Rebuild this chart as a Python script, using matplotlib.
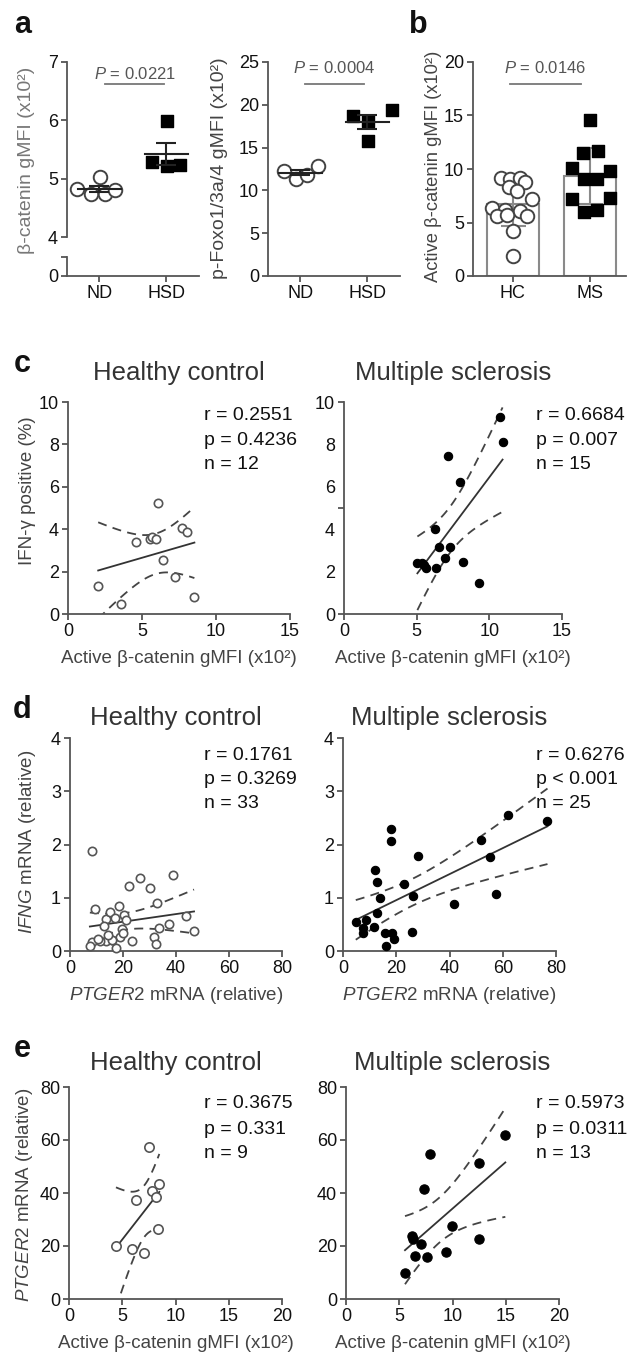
import numpy as np
import matplotlib
matplotlib.use("Agg")
import matplotlib.pyplot as plt

plt.rcParams['font.family'] = ['Liberation Sans', 'DejaVu Sans']
plt.rcParams['mathtext.fontset'] = 'custom'
plt.rcParams['mathtext.rm'] = 'Liberation Sans'
plt.rcParams['mathtext.it'] = 'Liberation Sans:italic'

# ---------------- data ----------------
# panel a (left): beta-catenin gMFI (x10^2), mouse ND vs HSD
groups_a = ['ND', 'HSD']
bcat_nd = [5.03, 4.83, 4.73, 4.73, 4.80]
bcat_nd_dx = [0.01, -0.33, -0.12, 0.09, 0.24]
bcat_hsd = [5.98, 5.29, 5.21, 5.23]
bcat_hsd_dx = [0.01, -0.21, 0.01, 0.21]
p_bcat = 'P = 0.0221'

# panel a (right): p-Foxo1/3a/4 gMFI (x10^2)
foxo_nd = [12.3, 11.33, 11.83, 12.85]
foxo_nd_dx = [-0.24, -0.06, 0.1, 0.27]
foxo_hsd = [18.7, 18.1, 15.8, 19.4]
foxo_hsd_dx = [-0.21, 0.01, 0.01, 0.37]
p_foxo = 'P = 0.0004'

# panel b: active beta-catenin gMFI (x10^2), HC vs MS
groups_b = ['HC', 'MS']
act_hc = [9.2, 9.1, 9.2, 8.8, 8.3, 7.9, 7.2, 6.4, 6.2, 6.1, 5.6, 5.7, 5.6, 4.2, 1.9]
act_hc_dx = [-0.15, -0.04, 0.09, 0.16, -0.05, 0.06, 0.25, -0.27, -0.1, 0.09,
             -0.2, -0.07, 0.19, 0.0, 0.0]
act_ms = [14.6, 11.45, 11.7, 10.07, 9.85, 9.07, 9.07, 7.17, 7.26, 6.0, 6.17]
act_ms_dx = [0.0, -0.1, 0.1, -0.24, 0.25, -0.08, 0.09, -0.24, 0.25, -0.08, 0.09]
p_act = 'P = 0.0146'

# panel c: IFN-g positive (%) vs active beta-catenin
c_hc_x = [2.04, 3.6, 4.57, 5.51, 5.69, 5.92, 6.07, 6.41, 7.2, 7.67, 8.05, 8.54]
c_hc_y = [1.33, 0.47, 3.41, 3.52, 3.65, 3.52, 5.22, 2.55, 1.73, 4.04, 3.88, 0.79]
c_ms_x = [10.73, 10.91, 7.14, 7.99, 6.28, 6.51, 7.31, 6.92, 8.22, 5.05, 5.39,
          5.62, 6.35, 9.27, 5.5]
c_ms_y = [9.31, 8.13, 7.45, 6.21, 4.0, 3.17, 3.15, 2.63, 2.47, 2.39, 2.39,
          2.16, 2.16, 1.48, 2.3]
c_stats = [['r = 0.2551', 'p = 0.4236', 'n = 12'],
           ['r = 0.6684', 'p = 0.007', 'n = 15']]

# panel d: IFNG mRNA vs PTGER2 mRNA
d_hc_x = [8.4, 9.4, 13.6, 15.1, 18.6, 20.4, 21.0, 22.4, 26.4, 30.2, 38.7, 32.7,
          43.7, 46.8, 37.5, 33.7, 31.7, 32.3, 23.3, 19.5, 18.9, 12.8, 15.7, 17.4,
          13.6, 11.3, 8.2, 7.5, 16.0, 17.0, 20.0, 10.5, 14.5]
d_hc_y = [1.87, 0.78, 0.60, 0.74, 0.85, 0.68, 0.58, 1.22, 1.38, 1.18, 1.43, 0.91,
          0.66, 0.38, 0.51, 0.44, 0.27, 0.13, 0.19, 0.41, 0.26, 0.47, 0.21, 0.05,
          0.18, 0.19, 0.16, 0.09, 0.20, 0.62, 0.33, 0.22, 0.30]
d_ms_x = [4.8, 8.5, 7.6, 7.6, 11.7, 11.9, 12.9, 13.8, 12.9, 15.7, 16.1, 18.5,
          19.2, 18.2, 18.2, 22.9, 26.4, 25.8, 28.2, 41.7, 52.0, 55.3, 57.4, 62.0, 76.8]
d_ms_y = [0.55, 0.58, 0.43, 0.33, 0.45, 1.52, 1.30, 0.99, 0.71, 0.33, 0.09, 0.33,
          0.23, 2.29, 2.07, 1.26, 1.03, 0.36, 1.79, 0.88, 2.08, 1.77, 1.07, 2.55, 2.45]
d_stats = [['r = 0.1761', 'p = 0.3269', 'n = 33'],
           ['r = 0.6276', 'p < 0.001', 'n = 25']]

# panel e: PTGER2 mRNA vs active beta-catenin
e_hc_x = [4.41, 5.89, 6.29, 7.51, 7.04, 7.76, 8.17, 8.48, 8.39]
e_hc_y = [20.1, 18.9, 37.4, 57.2, 17.2, 40.8, 38.4, 43.4, 26.4]
e_ms_x = [5.54, 6.23, 6.48, 7.0, 7.32, 7.89, 7.64, 9.4, 9.96, 12.5, 12.5, 14.96, 6.3]
e_ms_y = [9.7, 23.6, 16.1, 20.8, 41.5, 54.7, 15.7, 17.7, 27.7, 51.5, 22.6, 61.7, 22.8]
e_stats = [['r = 0.3675', 'p = 0.331', 'n = 9'],
           ['r = 0.5973', 'p = 0.0311', 'n = 13']]

# two-sided 95% t critical values by degrees of freedom
t95 = {7: 2.365, 10: 2.228, 11: 2.201, 13: 2.160, 23: 2.069, 31: 2.040}

# ---------------- style ----------------
W, H = 628, 1355
AX = '#555555'
LAB = '#444444'
TICK = 13
fig = plt.figure(figsize=(W / 100, H / 100), dpi=100)


def add_ax(l, t, r, b):
    return fig.add_axes([l / W, 1 - b / H, (r - l) / W, (b - t) / H])


def ftext(x, y, s, **kw):
    fig.text(x / W, 1 - y / H, s, **kw)


def style(ax):
    for s in ['top', 'right']:
        ax.spines[s].set_visible(False)
    for s in ['left', 'bottom']:
        ax.spines[s].set_color(AX)
        ax.spines[s].set_linewidth(1.3)
    ax.tick_params(direction='out', length=4.5, width=1.3, color=AX,
                   labelsize=TICK, labelcolor='#111111', pad=2)


def p_mark(ax, x0, x1, yline, ytext, label):
    ax.plot([x0, x1], [yline, yline], color='#777777', lw=1.3, clip_on=False)
    txt = r'$\it{P}$' + label[1:]
    ax.text((x0 + x1) / 2, ytext, txt, ha='center', va='baseline', fontsize=12,
            color='#555555')


def dot_group(ax, x, vals, dx, marker, filled, size):
    vals = np.array(vals)
    xs = x + np.array(dx)
    if filled:
        ax.scatter(xs, vals, s=size, marker=marker, facecolor='black',
                   edgecolor='black', lw=1, zorder=3, clip_on=False)
    else:
        ax.scatter(xs, vals, s=size, marker=marker, facecolor='white',
                   edgecolor='#444444', lw=1.4, zorder=3, clip_on=False)
    m = vals.mean()
    sem = vals.std(ddof=1) / np.sqrt(len(vals))
    ax.plot([x - 0.32, x + 0.32], [m, m], color='#222222', lw=1.5, zorder=4)
    ax.errorbar(x, m, yerr=sem, color='#222222', lw=1.5, capsize=7,
                capthick=1.5, zorder=4)


def reg_panel(ax, x, y, filled, size):
    x = np.array(x)
    y = np.array(y)
    n = len(x)
    if filled:
        ax.scatter(x, y, s=size, facecolor='black', edgecolor='black', lw=0.8,
                   zorder=3, clip_on=False)
    else:
        ax.scatter(x, y, s=size, facecolor='white', edgecolor='#555555', lw=1.2,
                   zorder=3, clip_on=False)
    b, a = np.polyfit(x, y, 1)
    xs = np.linspace(x.min(), x.max(), 120)
    yh = a + b * xs
    res = y - (a + b * x)
    s = np.sqrt((res ** 2).sum() / (n - 2))
    sxx = ((x - x.mean()) ** 2).sum()
    se = s * np.sqrt(1 / n + (xs - x.mean()) ** 2 / sxx)
    t = t95[n - 2]
    ax.plot(xs, yh, color='#333333', lw=1.3, zorder=2)
    for sign in (1, -1):
        ax.plot(xs, yh + sign * t * se, color='#444444', lw=1.3,
                ls=(0, (5, 3.5)), zorder=2)


# ---------------- panel a left (broken axis) ----------------
ax_up = add_ax(67, 62, 199, 237)
ax_lo = add_ax(67, 257, 199, 276)
for ax in (ax_up, ax_lo):
    style(ax)
    ax.set_xlim(-0.48, 1.49)
ax_up.spines['bottom'].set_visible(False)
ax_up.set_xticks([])
ax_up.set_ylim(4, 7)
ax_up.set_yticks([4, 5, 6, 7])
ax_lo.set_ylim(0, 0.33)
ax_lo.set_yticks([0, 0.33])
ax_lo.set_yticklabels(['0', ''])
ax_lo.set_xticks([0, 1])
ax_lo.set_xticklabels(groups_a)
dot_group(ax_up, 0, bcat_nd, bcat_nd_dx, 'o', False, 95)
dot_group(ax_up, 1, bcat_hsd, bcat_hsd_dx, 's', True, 85)
p_mark(ax_up, 0.09, 0.97, 6.62, 6.71, p_bcat)
ftext(27, 160, 'β-catenin gMFI (x10²)', rotation=90, ha='center', va='center',
      fontsize=14, color='#777777')

# ---------------- panel a right ----------------
ax = add_ax(268, 62, 400, 276)
style(ax)
ax.set_xlim(-0.48, 1.49)
ax.set_ylim(0, 25)
ax.set_yticks(range(0, 26, 5))
ax.set_xticks([0, 1])
ax.set_xticklabels(groups_a)
dot_group(ax, 0, foxo_nd, foxo_nd_dx, 'o', False, 95)
dot_group(ax, 1, foxo_hsd, foxo_hsd_dx, 's', True, 85)
p_mark(ax, 0.07, 0.96, 22.4, 23.7, p_foxo)
ftext(220, 168, 'p-Foxo1/3a/4 gMFI (x10²)', rotation=90, ha='center', va='center',
      fontsize=14, color=LAB)

# ---------------- panel b ----------------
ax = add_ax(473, 62, 626, 276)
style(ax)
ax.set_xlim(-0.51, 1.46)
ax.set_ylim(0, 20)
ax.set_yticks(range(0, 21, 5))
ax.set_xticks([0, 1])
ax.set_xticklabels(groups_b)
for i, vals in enumerate([act_hc, act_ms]):
    vals = np.array(vals)
    ax.bar(i, vals.mean(), width=0.67, facecolor='white', edgecolor='#8a8a8a',
           lw=1.5, zorder=1)
    ax.errorbar(i, vals.mean(), yerr=vals.std(ddof=1), color='#8a8a8a', lw=1.5,
                capsize=9, capthick=1.5, zorder=2)
ax.scatter(0 + np.array(act_hc_dx), act_hc, s=95, facecolor='white',
           edgecolor='#444444', lw=1.4, zorder=3, clip_on=False)
ax.scatter(1 + np.array(act_ms_dx), act_ms, s=80, marker='s', facecolor='black',
           edgecolor='black', lw=1, zorder=3, clip_on=False)
p_mark(ax, -0.04, 0.88, 17.9, 19.0, p_act)
ftext(433, 166, 'Active β-catenin gMFI (x10²)', rotation=90, ha='center',
      va='center', fontsize=13.2, color=LAB)

# ---------------- panels c, d, e ----------------
rows = [
    dict(top=402, bot=614, lx=(68, 290), rx=(344, 562), xlim=(0, 15),
         xt=[0, 5, 10, 15], ylim=(0, 10), yt=[0, 2, 4, 6, 8, 10],
         hc=(c_hc_x, c_hc_y), ms=(c_ms_x, c_ms_y), stats=c_stats, size=36,
         tb=380, sb=[420, 445, 469], xb=663,
         xlabel='Active β-catenin gMFI (x10²)', ylabel='IFN-γ positive (%)',
         ylab_pos=(28, 491), letter='c', lb=372),
    dict(top=738, bot=951, lx=(70, 282), rx=(343, 556), xlim=(0, 80),
         xt=[0, 20, 40, 60, 80], ylim=(0, 4), yt=[0, 1, 2, 3, 4],
         hc=(d_hc_x, d_hc_y), ms=(d_ms_x, d_ms_y), stats=d_stats, size=36,
         tb=725, sb=[760, 784, 808], xb=1000,
         xlabel=r'$\it{PTGER2}$ mRNA (relative)', ylabel=r'$\it{IFNG}$ mRNA (relative)',
         ylab_pos=(28, 842), letter='d', lb=718),
    dict(top=1087, bot=1299, lx=(69, 282), rx=(346, 559), xlim=(0, 20),
         xt=[0, 5, 10, 15, 20], ylim=(0, 80), yt=[0, 20, 40, 60, 80],
         hc=(e_hc_x, e_hc_y), ms=(e_ms_x, e_ms_y), stats=e_stats, size=45,
         tb=1070, sb=[1108, 1134, 1158], xb=1348,
         xlabel='Active β-catenin gMFI (x10²)', ylabel=r'$\it{PTGER2}$ mRNA (relative)',
         ylab_pos=(25, 1195), letter='e', lb=1057),
]

for row in rows:
    for side, (l, r) in enumerate([row['lx'], row['rx']]):
        ax = add_ax(l, row['top'], r, row['bot'])
        style(ax)
        ax.set_xlim(*row['xlim'])
        ax.set_ylim(*row['ylim'])
        ax.set_xticks(row['xt'])
        ax.set_yticks(row['yt'])
        data = row['hc'] if side == 0 else row['ms']
        reg_panel(ax, data[0], data[1], filled=(side == 1), size=row['size'])
        if row['letter'] == 'c' and side == 1:
            for tk in ax.yaxis.get_major_ticks()[1:5]:
                tk.tick1line.set_visible(False)
            ax.set_yticks([5], minor=True)
            ax.tick_params(axis='y', which='minor', length=4.5, width=1.3, color=AX)
        title = 'Healthy control' if side == 0 else 'Multiple sclerosis'
        ftext((l + r) / 2, row['tb'], title, ha='center', va='baseline',
              fontsize=18.5, color='#333333')
        sx = 204 if side == 0 else 536
        for s, yb in zip(row['stats'][side], row['sb']):
            ftext(sx, yb, s, ha='left', va='baseline', fontsize=14, color='#111111')
        ftext((l + r) / 2, row['xb'], row['xlabel'], ha='center', va='baseline',
              fontsize=13.5, color=LAB)
    ftext(row['ylab_pos'][0], row['ylab_pos'][1], row['ylabel'], rotation=90,
          ha='center', va='center', fontsize=13.5, color=LAB)
    ftext(22, row['lb'], row['letter'], ha='center', va='baseline', fontsize=22,
          fontweight='bold', color='#111111')

ftext(23, 33, 'a', ha='center', va='baseline', fontsize=22, fontweight='bold',
      color='#111111')
ftext(418, 33, 'b', ha='center', va='baseline', fontsize=22, fontweight='bold',
      color='#111111')

fig.savefig('out.png', dpi=100)
